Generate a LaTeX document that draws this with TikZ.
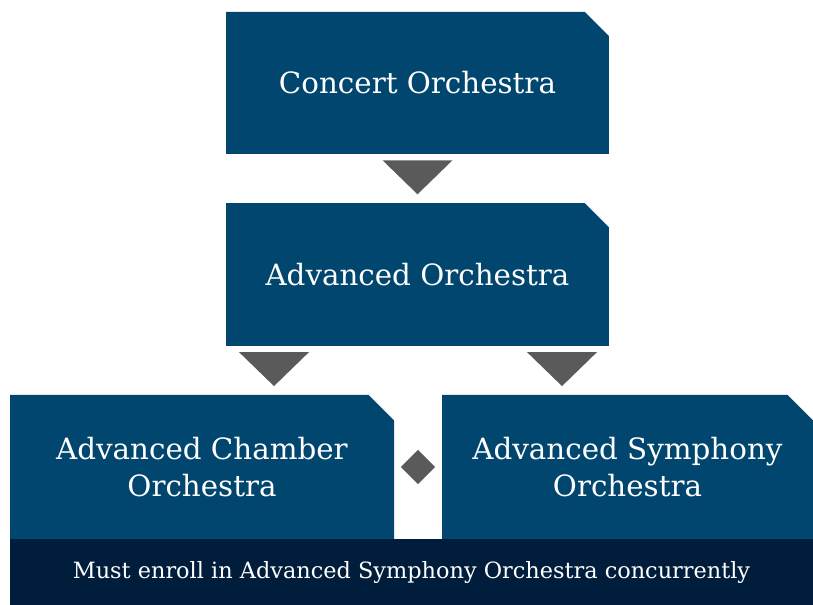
\documentclass[tikz,border=0pt]{standalone}
\usepackage{fontspec}
\setmainfont{DejaVu Serif}
\usepackage{xcolor}
\usetikzlibrary{calc,shapes.misc,shapes.geometric}

\definecolor{boxblue}{RGB}{0,70,110}
\definecolor{barnavy}{RGB}{0,30,60}
\definecolor{markgray}{RGB}{90,90,90}

\tikzset{
    course/.style={chamfered rectangle, chamfered rectangle corners=north east,
        chamfered rectangle xsep=9.5pt, chamfered rectangle ysep=9.5pt,
        fill=boxblue, text=white, inner sep=0pt, align=center,
        font=\fontsize{22}{28}\selectfont},
    note/.style={rectangle, fill=barnavy, text=white, inner sep=0pt,
        font=\fontsize{16.8}{20}\selectfont},
    down/.style={fill=markgray}
}

\begin{document}
\begin{tikzpicture}[x=0.75pt, y=-0.75pt]
                            \useasboundingbox (0,0) rectangle (813,605);

                            \node[course, minimum width=287pt, minimum height=106.5pt] (concert) at (417.5,83) {Concert Orchestra};
                            \node[course, minimum width=287pt, minimum height=107pt] (advanced) at (417.5,274.5) {Advanced Orchestra};
                            \node[course, minimum width=288pt, minimum height=108pt] (chamber) at (202,467) {Advanced Chamber\\Orchestra};
                            \node[course, minimum width=278pt, minimum height=108pt] (symphony) at (627.5,467) {Advanced Symphony\\Orchestra};
                            \node[note, minimum width=602pt, minimum height=49.5pt] (concur) at (411.5,572) {Must enroll in Advanced Symphony Orchestra concurrently};

                            \node[diamond, fill=markgray, minimum size=26pt, inner sep=0pt] (with) at (418,467) {};

                            % triangles between the levels
                            \fill[down] ($(concert.south)+(-35,6)$) -- ++(70,0) -- ++(-35,34) -- cycle;
                            \foreach \xoff in {-178.5,109.5}{
                                \fill[down] ($(advanced.south)+(\xoff,6)$) -- ++(70,0) -- ++(-35,34) -- cycle;
                            }
                        \end{tikzpicture}
\end{document}
